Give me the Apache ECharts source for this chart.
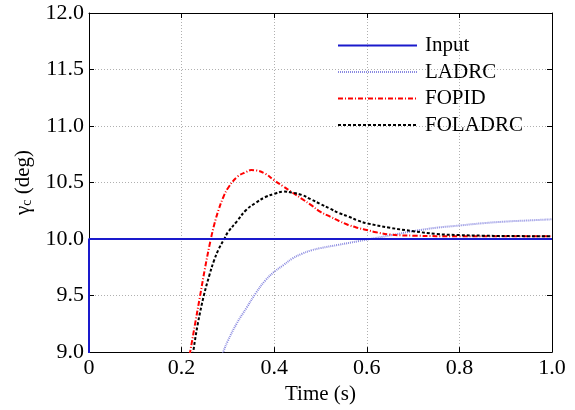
<!DOCTYPE html>
<html><head><meta charset="utf-8">
<script src="https://cdn.jsdelivr.net/npm/echarts@6/dist/echarts.min.js"></script>
<style>html,body{margin:0;padding:0;background:#fff}#c{width:575px;height:410px}</style>
</head><body><div id="c"></div>
<script>
var xTicks = [0, 0.2, 0.4, 0.6, 0.8, 1.0];
var yTicks = [9.0, 9.5, 10.0, 10.5, 11.0, 11.5, 12.0];
var inputT = [0, 0, 1.0];
var inputV = [0, 10, 10];
var ladrcT = [0.28, 0.29, 0.30, 0.32, 0.34, 0.36, 0.38, 0.40, 0.42, 0.44, 0.46, 0.48, 0.50, 0.54, 0.58, 0.62, 0.66, 0.70, 0.75, 0.80, 0.85, 0.90, 0.95, 1.00];
var ladrcV = [8.85, 9.0, 9.1, 9.26, 9.39, 9.52, 9.63, 9.71, 9.77, 9.83, 9.87, 9.90, 9.92, 9.95, 9.98, 10.01, 10.04, 10.07, 10.10, 10.12, 10.14, 10.155, 10.165, 10.175];
var fopidT = [0.21, 0.218, 0.23, 0.24, 0.25, 0.26, 0.27, 0.28, 0.29, 0.30, 0.32, 0.34, 0.35, 0.36, 0.38, 0.40, 0.42, 0.44, 0.46, 0.48, 0.50, 0.52, 0.54, 0.56, 0.58, 0.60, 0.62, 0.65, 0.70, 0.80, 0.90, 1.00];
var fopidV = [8.8, 8.99, 9.27, 9.5, 9.73, 9.94, 10.12, 10.26, 10.37, 10.45, 10.55, 10.595, 10.61, 10.608, 10.58, 10.52, 10.465, 10.41, 10.355, 10.3, 10.24, 10.2, 10.16, 10.125, 10.1, 10.08, 10.06, 10.04, 10.03, 10.025, 10.025, 10.025];
var foladrcT = [0.218, 0.225, 0.235, 0.248, 0.26, 0.27, 0.28, 0.292, 0.30, 0.32, 0.34, 0.36, 0.38, 0.40, 0.42, 0.44, 0.46, 0.48, 0.50, 0.52, 0.54, 0.56, 0.58, 0.60, 0.65, 0.70, 0.75, 0.80, 0.85, 0.90, 1.00];
var foladrcV = [8.8, 9.0, 9.25, 9.5, 9.68, 9.81, 9.91, 10.0, 10.06, 10.16, 10.26, 10.32, 10.37, 10.40, 10.42, 10.41, 10.39, 10.35, 10.31, 10.27, 10.23, 10.2, 10.165, 10.14, 10.1, 10.07, 10.045, 10.035, 10.03, 10.027, 10.025];

function pairs(t, v) { return t.map(function (x, i) { return [x, v[i]]; }); }
var font = 'Liberation Serif, Times New Roman, serif';
var chart = echarts.init(document.getElementById('c'));
var axisCommon = {
  axisLine: { show: true, onZero: false, lineStyle: { color: '#000', width: 1 } },
  axisTick: { show: true, inside: true, length: 5, lineStyle: { color: '#000' } },
  splitLine: { show: false }
};
chart.setOption({
  animation: false,
  backgroundColor: '#fff',
  grid: { left: 89, right: 23, top: 13, bottom: 52, show: false },
  legend: {
    orient: 'vertical', left: 332, top: 30, itemWidth: 79, itemHeight: 14, itemGap: 5.5,
    itemStyle: { opacity: 0 },
    textStyle: { fontFamily: font, fontSize: 21, color: '#000', padding: [0, 0, 0, 3] },
    data: ['Input', 'LADRC', 'FOPID', 'FOLADRC']
  },
  xAxis: [
    Object.assign({}, axisCommon, {
      type: 'value', min: 0, max: 1.0, interval: 0.2, position: 'bottom',
      name: 'Time (s)', nameLocation: 'middle', nameGap: 30,
      nameTextStyle: { fontFamily: font, fontSize: 21, color: '#000' },
      axisLabel: { fontFamily: font, fontSize: 22, color: '#000', margin: 5,
        formatter: function (v) { return v === 0 ? '0' : v.toFixed(1); } },
      splitLine: { show: true, lineStyle: { color: '#b0b0b0', type: [1, 2], width: 1 } }
    }),
    Object.assign({}, axisCommon, {
      type: 'value', min: 0, max: 1.0, interval: 0.2, position: 'top', axisLabel: { show: false }
    })
  ],
  yAxis: [
    Object.assign({}, axisCommon, {
      type: 'value', min: 9, max: 12, interval: 0.5, position: 'left',
      name: '{g|γ}{s|c}{g| (deg)}', nameLocation: 'middle', nameGap: 55,
      nameTextStyle: { fontFamily: font, fontSize: 21, color: '#000',
        rich: { g: { fontFamily: font, fontSize: 21, color: '#000' },
                s: { fontFamily: font, fontSize: 14, color: '#000', verticalAlign: 'bottom', padding: [8, 0, 0, 0] } } },
      axisLabel: { fontFamily: font, fontSize: 22, color: '#000', margin: 5,
        formatter: function (v) { return v.toFixed(1); } },
      splitLine: { show: true, lineStyle: { color: '#b0b0b0', type: [1, 2], width: 1 } }
    }),
    Object.assign({}, axisCommon, {
      type: 'value', min: 9, max: 12, interval: 0.5, position: 'right', axisLabel: { show: false }
    })
  ],
  series: [
    { name: 'Input', type: 'line', data: pairs(inputT, inputV), symbol: 'none', clip: true,
      lineStyle: { color: '#1a1acc', width: 2, type: 'solid' }, itemStyle: { color: '#1a1acc' }, z: 5 },
    { name: 'LADRC', type: 'line', data: pairs(ladrcT, ladrcV), symbol: 'none', smooth: 0.4, clip: true,
      lineStyle: { color: '#8a8ae0', width: 2, type: [1, 1] }, itemStyle: { color: '#8a8ae0' }, z: 3 },
    { name: 'FOPID', type: 'line', data: pairs(fopidT, fopidV), symbol: 'none', smooth: 0.4, clip: true,
      lineStyle: { color: '#ff0000', width: 2, type: [5, 2, 1, 2] }, itemStyle: { color: '#ff0000' }, z: 4 },
    { name: 'FOLADRC', type: 'line', data: pairs(foladrcT, foladrcV), symbol: 'none', smooth: 0.4, clip: true,
      lineStyle: { color: '#000', width: 2, type: [3, 2] }, itemStyle: { color: '#000' }, z: 4 }
  ]
});
</script></body></html>
